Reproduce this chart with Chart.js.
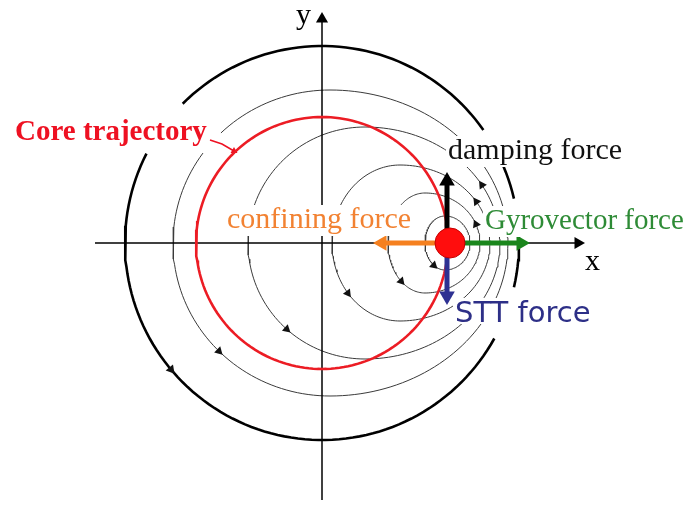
<!DOCTYPE html>
<html lang="en">
<head>
<meta charset="UTF-8">
<title>Vortex core forces</title>
<script src="https://cdn.jsdelivr.net/npm/chart.js"></script>
<style>
  html, body { margin: 0; padding: 0; background: #fff; }
  #c { display: block; }
</style>
</head>
<body>
<canvas id="c" width="692" height="507"></canvas>
<script>
// diagram units (1 unit ~ 1 px), origin where the two axes cross, y pointing up
const xAxisEnds = [-227, 263];
const yAxisEnds = [-257, 231];

const coreRadius = 126;                 // red core trajectory
const outerRadius = 197;                // thick outer circle
const outerArcs = [[-13, 3], [13, 23], [35, 135], [153, 331]];   // degrees

// thin trajectories (egg shaped): centre x, half height, left / right half width
const trajCx  = [8, 43, 78, 103, 123];
const trajRy  = [153, 116, 78, 50, 27];
const trajRxL = [157, 117, 68, 37, 20];
const trajRxR = [178, 135, 90, 55, 25];
const trajArcs = [[[144, 494]], [[0, 360]], [[0, 360]], [[0, 360]], [[0, 360]]];

// small arrowheads on the trajectories: which curve (-1 = outer circle), at what angle
const arrowOn    = [-1, 0, 1, 2, 3, 4, 1, 2, 3];
const arrowAngle = [220, 225, 228, 220, 230, 236, 30, 32, 22];

const corePos = [128, 0];
const forceNames = ['damping', 'confining', 'gyrovector', 'STT'];
const forceFrom  = [[125, 0], [128, 0], [128, 0], [125, 0]];
const forceTip   = [[125, 71], [51, 0], [208, 0], [125, -62]];
const forceColor = ['#000000', '#f5801f', '#1a861c', '#2e3192'];

const pointerPath = [[-112, 103], [-100, 99], [-88, 92]];

// text labels (left / baseline in diagram units)
const labels = [
  { text: 'y', x: -26, y: 219, font: '30px "Liberation Serif"', color: '#000' },
  { text: 'x', x: 263, y: -27, font: '30px "Liberation Serif"', color: '#000' },
  { text: 'Core trajectory', x: -307, y: 103, font: 'bold 29px "Liberation Serif"', color: '#ee1122' },
  { text: 'damping force', x: 126, y: 84, font: '30px "Liberation Serif"', color: '#111' },
  { text: 'Gyrovector force', x: 163, y: 14, font: '29px "Liberation Serif"', color: '#2e8b36' },
  { text: 'confining force', x: -95, y: 15, font: '30px "Liberation Serif"', color: '#f28232' },
  { text: 'STT force', x: 133, y: -79, font: '29px "DejaVu Sans"', color: '#2d2f87' }
];

function curvePoint(i, deg) {
  const t = deg * Math.PI / 180, c = Math.cos(t), s = Math.sin(t);
  if (i < 0) return { x: outerRadius * c, y: outerRadius * s };
  const rx = c >= 0 ? trajRxR[i] : trajRxL[i];
  return { x: trajCx[i] + rx * c, y: trajRy[i] * s };
}

// rotation (deg, clockwise from up on screen) of the travel direction, counter-clockwise motion
function curveHeading(i, deg) {
  const t = deg * Math.PI / 180, c = Math.cos(t), s = Math.sin(t);
  const rx = i < 0 ? outerRadius : (c >= 0 ? trajRxR[i] : trajRxL[i]);
  const ry = i < 0 ? outerRadius : trajRy[i];
  return Math.atan2(-rx * s, ry * c) * 180 / Math.PI;
}

function arcPoints(i, a, b) {
  const pts = [];
  for (let d = a; d < b; d += 2) pts.push(curvePoint(i, d));
  pts.push(curvePoint(i, b));
  return pts;
}

function circlePoints(r) {
  const pts = [];
  for (let d = 0; d <= 360; d += 2) {
    const t = d * Math.PI / 180;
    pts.push({ x: r * Math.cos(t), y: r * Math.sin(t) });
  }
  return pts;
}

function lineSet(data, color, width, order) {
  return { data: data, borderColor: color, borderWidth: width, showLine: true,
           pointRadius: 0, fill: false, order: order };
}

const datasets = [];

// thin trajectories
trajArcs.forEach((arcs, i) => {
  arcs.forEach(a => datasets.push(lineSet(arcPoints(i, a[0], a[1]), '#3a3a3a', 1, 50)));
});

// outer circle
outerArcs.forEach(a => datasets.push(lineSet(arcPoints(-1, a[0], a[1]), '#000', 2.6, 40)));

// axes
datasets.push(lineSet([{ x: xAxisEnds[0], y: 0 }, { x: xAxisEnds[1] - 8, y: 0 }], '#000', 1.5, 30));
datasets.push(lineSet([{ x: 0, y: yAxisEnds[0] }, { x: 0, y: yAxisEnds[1] - 8 }], '#000', 1.5, 30));
datasets.push({
  data: [{ x: xAxisEnds[1] - 7, y: 0 }, { x: 0, y: yAxisEnds[1] - 7 }],
  pointStyle: 'triangle', pointRadius: 7, pointRotation: [90, 0],
  backgroundColor: '#000', borderColor: '#000', borderWidth: 0, order: 30
});

// core trajectory circle
datasets.push(lineSet(circlePoints(coreRadius), '#ec1c24', 2.6, 20));

// pointer from the label to the red circle
datasets.push(lineSet(pointerPath.map(p => ({ x: p[0], y: p[1] })), '#ee1122', 1.5, 20));
datasets.push({
  data: [{ x: pointerPath[2][0], y: pointerPath[2][1] }],
  pointStyle: 'triangle', pointRadius: 4, pointRotation: 120,
  backgroundColor: '#ee1122', borderWidth: 0, order: 20
});

// arrowheads on the trajectories
datasets.push({
  data: arrowOn.map((c, k) => curvePoint(c, arrowAngle[k])),
  pointStyle: 'triangle', pointRadius: arrowOn.map(c => c < 0 ? 5.5 : 5),
  pointRotation: arrowOn.map((c, k) => curveHeading(c, arrowAngle[k])),
  backgroundColor: '#111', borderWidth: 0, order: 15
});

// force arrows
const headR = 9;
forceNames.forEach((name, k) => {
  const f = forceFrom[k], t = forceTip[k];
  const dx = t[0] - f[0], dy = t[1] - f[1], len = Math.hypot(dx, dy);
  const hx = t[0] - headR * dx / len, hy = t[1] - headR * dy / len;
  datasets.push(lineSet([{ x: f[0], y: f[1] }, { x: hx, y: hy }], forceColor[k], 5, 10));
  datasets.push({
    label: name,
    data: [{ x: hx, y: hy }],
    pointStyle: 'triangle', pointRadius: headR,
    pointRotation: Math.atan2(dx, dy) * 180 / Math.PI,
    backgroundColor: forceColor[k], borderWidth: 0, order: 9
  });
});

// the vortex core
datasets.push({
  data: [{ x: corePos[0], y: corePos[1] }],
  pointStyle: 'circle', pointRadius: 15,
  backgroundColor: '#ff0d0d', borderColor: '#c40000', borderWidth: 1, order: 1
});

const labelPlugin = {
  id: 'labels',
  afterDatasetsDraw(chart) {
    const ctx = chart.ctx, sx = chart.scales.x, sy = chart.scales.y;
    ctx.save();
    labels.forEach(l => {
      const px = sx.getPixelForValue(l.x), py = sy.getPixelForValue(l.y);
      ctx.font = l.font;
      const m = ctx.measureText(l.text);
      if (l.text.length > 1) {
        ctx.fillStyle = '#fff';
        ctx.fillRect(px - 2, py - m.actualBoundingBoxAscent - 2, m.width + 4,
                     m.actualBoundingBoxAscent + m.actualBoundingBoxDescent + 4);
      }
      ctx.fillStyle = l.color;
      ctx.textBaseline = 'alphabetic';
      ctx.fillText(l.text, px, py);
    });
    ctx.restore();
  }
};

new Chart(document.getElementById('c'), {
  type: 'scatter',
  data: { datasets: datasets },
  options: {
    responsive: false,
    animation: false,
    layout: { padding: 0, autoPadding: false },
    elements: { point: { radius: 0, hoverRadius: 0 } },
    plugins: { legend: { display: false }, tooltip: { enabled: false } },
    scales: {
      x: { type: 'linear', min: -322, max: 370, display: false },
      y: { type: 'linear', min: -264, max: 243, display: false }
    }
  },
  plugins: [labelPlugin]
});
</script>
</body>
</html>
